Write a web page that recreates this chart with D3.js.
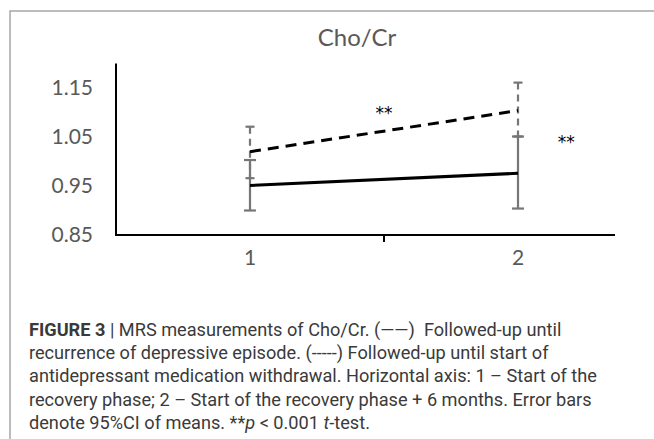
<!DOCTYPE html>
<html>
<head>
<meta charset="utf-8">
<script src="https://cdn.jsdelivr.net/npm/d3@7"></script>
<style>
  html, body { margin: 0; padding: 0; background: #fff; }
  svg { display: block; }
  .caption text { white-space: pre; }
</style>
</head>
<body>
<svg id="chart" width="654" height="439"></svg>
<script>
// ---- data ----
const categories = ["1", "2"];
const yTicks = [0.85, 0.95, 1.05, 1.15];
const recurrenceMean  = [0.951, 0.976];
const recurrenceLow   = [0.900, 0.904];
const recurrenceHigh  = [1.003, 1.051];
const withdrawalMean  = [1.020, 1.104];
const withdrawalLow   = [0.966, 1.051];
const withdrawalHigh  = [1.071, 1.161];
const significance = [
  {pos: 1.5, value: 1.115, text: "**"},
  {pos: 2.18, value: 1.055, text: "**"}
];
const title = "Cho/Cr";
const captionLines = [
  [["FIGURE 3", true], [" | MRS measurements of Cho/Cr. (——)  Followed-up until", false]],
  [["recurrence of depressive episode. (-----) Followed-up until start of", false]],
  [["antidepressant medication withdrawal. Horizontal axis: 1 – Start of the", false]],
  [["recovery phase; 2 – Start of the recovery phase + 6 months. Error bars", false]],
  [["denote 95%CI of means. **", false], ["p", "italic"], [" < 0.001 ", false], ["t", "italic"], ["-test.", false]]
];

// ---- layout ----
const svg = d3.select("#chart");
const plotLeft = 116, plotRight = 652, axisEnd = 615;
const x = d3.scaleBand().domain(categories).range([plotLeft, plotRight]).padding(0);
const xc = c => x(c) + x.bandwidth() / 2;
const xPos = p => plotLeft + (p - 0.5) * x.bandwidth();
const y = d3.scaleLinear().domain([0.85, 1.20]).range([235, 63.5]);

const axisFont = "Lato, 'Open Sans', sans-serif";
const grey = "#595959";

// frame
svg.append("path")
  .attr("d", "M10,439 L10,11 L654,11")
  .attr("fill", "none").attr("stroke", "#a6a6a6").attr("stroke-width", 1.5);

// title
svg.append("text")
  .attr("x", 357).attr("y", 46)
  .attr("text-anchor", "middle")
  .attr("font-family", axisFont).attr("font-size", 24)
  .attr("fill", grey).text(title);

// y axis labels
const yAxis = d3.axisLeft(y).tickValues(yTicks).tickSize(0).tickPadding(0).tickFormat(d3.format(".2f"));
const gy = svg.append("g").attr("transform", "translate(93,0)").call(yAxis);
gy.select(".domain").remove();
gy.selectAll("text").attr("font-family", axisFont).attr("font-size", 21).attr("fill", grey);

// x axis labels
const xAxis = d3.axisBottom(x).tickSize(0).tickPadding(0);
const gx = svg.append("g").attr("transform", "translate(0,250)").call(xAxis);
gx.select(".domain").remove();
gx.selectAll("text").attr("font-family", axisFont).attr("font-size", 21).attr("fill", grey).attr("dy", "0.71em").attr("y", 0);

// axis lines
svg.append("line").attr("x1", plotLeft).attr("x2", plotLeft)
  .attr("y1", y(1.2)).attr("y2", y(0.85) + 1)
  .attr("stroke", "#000").attr("stroke-width", 2);
svg.append("line").attr("x1", plotLeft).attr("x2", axisEnd)
  .attr("y1", y(0.85)).attr("y2", y(0.85))
  .attr("stroke", "#000").attr("stroke-width", 2);
// tick between categories
svg.append("line").attr("x1", x("2")).attr("x2", x("2"))
  .attr("y1", y(0.85)).attr("y2", y(0.85) + 7)
  .attr("stroke", "#000").attr("stroke-width", 2);

// error bars
function errorBars(low, high, dash, capW) {
  const g = svg.append("g").attr("stroke", "#767676").attr("stroke-width", 2.2).attr("fill", "none");
  categories.forEach((c, i) => {
    const cx = xc(c);
    g.append("line").attr("x1", cx).attr("x2", cx)
      .attr("y1", y(high[i])).attr("y2", y(low[i]))
      .attr("stroke-dasharray", dash);
    g.append("line").attr("x1", cx - capW / 2).attr("x2", cx + capW / 2)
      .attr("y1", y(high[i])).attr("y2", y(high[i]));
    g.append("line").attr("x1", cx - capW / 2).attr("x2", cx + capW / 2)
      .attr("y1", y(low[i])).attr("y2", y(low[i]));
  });
}
errorBars(withdrawalLow, withdrawalHigh, "7,5", 9);
errorBars(recurrenceLow, recurrenceHigh, null, 12);

// lines
const line = d3.line().x((d, i) => xc(categories[i])).y(d => y(d));
svg.append("path").datum(recurrenceMean).attr("d", line)
  .attr("fill", "none").attr("stroke", "#000").attr("stroke-width", 3);
svg.append("path").datum(withdrawalMean).attr("d", line)
  .attr("fill", "none").attr("stroke", "#000").attr("stroke-width", 3)
  .attr("stroke-dasharray", "11,7");

// significance markers
svg.selectAll("text.sig").data(significance).enter().append("text")
  .attr("class", "sig")
  .attr("x", d => xPos(d.pos)).attr("y", d => y(d.value))
  .attr("text-anchor", "middle").attr("dy", "0.8em")
  .attr("font-family", "'DejaVu Sans', sans-serif").attr("font-size", 17)
  .attr("fill", "#000").text(d => d.text);

// caption
const capFont = "Roboto, 'Liberation Sans', sans-serif";
const cap = svg.append("g").attr("class", "caption").attr("font-family", capFont).attr("fill", "#3a3a3a");
captionLines.forEach((parts, li) => {
  const t = cap.append("text").attr("x", 29).attr("y", 336 + li * 23.2).attr("font-size", 17.5);
  parts.forEach(([s, style]) => {
    const ts = t.append("tspan").text(s);
    if (style === true) ts.attr("font-weight", "bold");
    if (style === "italic") ts.attr("font-style", "italic");
  });
});
// fit caption width to reference (line 4 spans ~563px)
const ref = cap.selectAll("text").nodes()[3];
const w = ref.getComputedTextLength();
const fs = 17.5 * 563 / w;
cap.selectAll("text").attr("font-size", fs);
</script>
</body>
</html>
